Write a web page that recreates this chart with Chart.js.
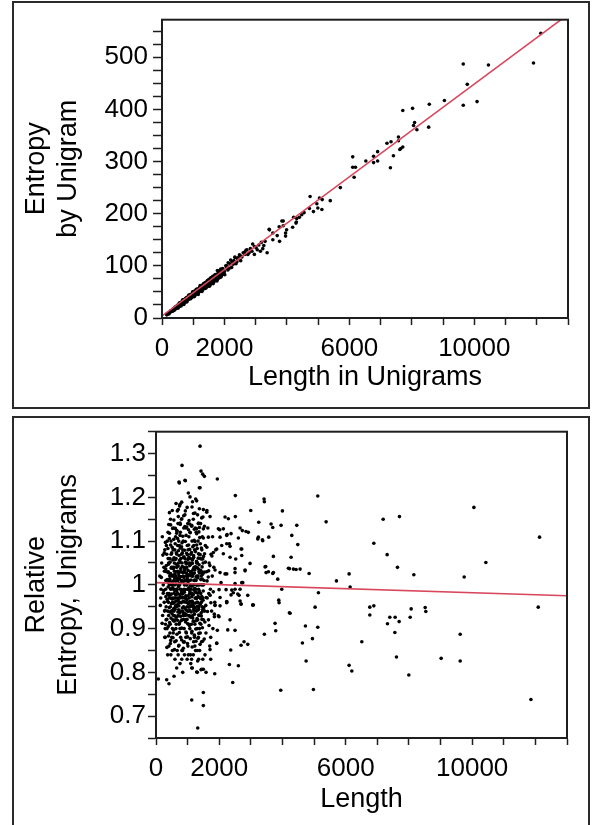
<!DOCTYPE html>
<html>
<head>
<meta charset="utf-8">
<script src="https://cdn.jsdelivr.net/npm/chart.js@4.4.1/dist/chart.umd.min.js"></script>
<style>
html, body { margin: 0; padding: 0; background: #fff; overflow: hidden; }
.box { position: absolute; left: 12px; width: 574px; border: 2px solid #2a2a2a; background: #fff; }
#box1 { top: 1px; height: 404px; }
#box2 { top: 416px; height: 420px; }
canvas { display: block; }
</style>
</head>
<body>
<div class="box" id="box1"><canvas id="entropyChart" width="574" height="404"></canvas></div>
<div class="box" id="box2"><canvas id="relativeChart" width="574" height="410"></canvas></div>
<script>
// labelled ticks on the length axis (others are unlabelled minor marks)
var lengthLabels = [0, 2000, 6000, 10000]

// fitted lines [length, value]
var entropyFit = [[0, 4], [13000, 582]]
var relativeFit = [[0, 1.005], [13000, 0.975]]

// top panel: [length in unigrams, entropy by unigram]
var entropyDense = [
  [150,6],[200,9],[250,11],[300,13],[320,15],[350,15],[380,17],[400,18],[420,19],[450,20],[470,22],[500,22],
  [520,24],[550,24],[570,26],[600,27],[620,28],[650,29],[670,31],[700,31],[720,33],[750,33],[770,35],[800,36],
  [820,37],[850,38],[870,40],[900,40],[920,42],[950,42],[970,44],[1000,45],[1020,47],[1050,46],[1070,48],[1100,49],
  [1120,51],[1150,51],[1170,53],[1200,53],[1220,55],[1250,56],[1270,58],[1300,58],[1320,60],[1350,60],[1370,62],
  [1400,62],[1420,65],[1450,64],[1470,67],[1500,67],[1520,69],[1550,69],[1570,72],[1600,71],[1620,74],[1650,73],
  [1680,76],[1700,75],[1730,79],[1760,78],[1800,81],[1840,83],[1880,85],[1920,86],[1960,88],[2000,89],
  [180,7],[240,10],[290,12],[340,16],[390,16],[440,21],[490,20],[540,26],[590,25],[640,30],[690,29],[740,35],
  [790,34],[840,40],[890,38],[940,44],[990,43],[1040,49],[1090,47],[1140,53],[1190,51],[1240,58],[1290,56],
  [1340,63],[1390,60],[1440,67],[1490,64],[1540,72],[1590,68],[1640,76],[1690,72],[1740,81],[1790,77],[1850,86],
  [1900,82],[1950,91],[360,14],[460,19],[560,23],[660,27],[760,31],[860,36],[960,40],[1060,44],[1160,48],
  [1260,52],[1360,57],[1460,61],[1560,65],[1660,70],[1760,74],[1860,79],[410,20],[510,25],[610,30],[710,35],
  [810,39],[910,44],[1010,49],[1110,54],[1210,59],[1310,63],[1410,68],[1510,73],[1610,77],[1710,82],[1810,84],
  [160,8],[230,8],[275,14],[335,13],[365,18],[395,15],[425,21],[455,18],[485,24],[515,21],[545,27],[575,23],
  [605,30],[635,26],[665,33],[695,28],[725,36],[755,31],[785,39],[815,34],[845,42],[875,37],[905,45],[935,39],
  [965,47],[995,41],[1025,51],[1055,44],[1085,53],[1115,47],[1145,56],[1175,49],[1205,58],[1235,52],[1265,62],
  [1295,54],[1325,65],[1355,56],[1385,68],[1415,59],[1445,71],[1475,62],[1505,74],[1535,64],[1565,77],[1595,66],
  [1625,80],[1655,69],[1685,82],[1715,72],[1745,84],[1775,74],[1805,88],[1835,77],[1865,90],[1895,80],[1925,93],
  [1975,84],[2060,96],[2110,92],[2180,104],[2230,97],[2300,110],[2370,104],[2450,116],[2520,110],[2600,125],
  [2750,122],[2830,133],[2880,128],[3100,140],[3150,128],[3300,147],
  [215,10],[345,15],[475,21],[605,27],[735,33],[865,38],[995,44],[1125,50],[1255,56],[1385,61],[1515,67],[1645,73],
  [1775,79],[1905,85],[280,13],[430,19],[580,26],[730,32],[880,39],[1030,46],[1180,52],[1330,59],[1480,66],
  [1630,72],[1780,79],[1930,86],
  [520,19],[560,29],[610,23],[660,35],[700,26],[760,38],[800,31],[860,44],[920,37],[980,50],[1040,41],[1100,55],
  [1160,45],[1220,62],[1280,51],[1340,66],[1400,57],[1460,72],[1520,61],[1580,77],[1640,66],[1700,83],[1760,71],
  [1820,90],[1880,78],[1940,95],[2010,83],[2080,100],[2150,95],[2200,111],[2280,103],[2340,116],[2400,108],
  [2480,121],[2560,117],[2640,126],[2720,131],[2790,125],[2960,137],[3050,131],[3180,145],[3260,139]
]
var entropySparse = [
  [12130,546],[11895,489],[10452,485],[9646,487],[9775,448],[9646,408],[10088,415],[9043,417],[8559,410],
  [8539,366],[8162,361],[8088,375],[8055,369],[8023,402],[7710,398],[7571,347],[7571,340],[7333,338],[7204,335],
  [7710,328],[7646,325],[7614,323],[7410,311],[7313,288],[6904,319],[6904,301],[6775,310],[6775,298],[6527,301],
  [6107,309],[6107,289],[6194,289],[6152,270],[5710,250],[5043,230],[5130,227],[4742,233],[5388,225],
  [5120,208],[4990,211],[4849,204],[4958,219],[4720,210],[4549,202],[4474,198],[4398,193],[4313,191],[4216,193],
  [4290,182],[4184,174],[3882,186],[3839,186],[3752,175],[3882,177],[3430,170],[3990,169],[4302,184],[3957,163],
  [3957,157],[3688,158],[3549,163],[3764,147],[3549,150],[3442,169],[3366,125],[3226,133],[2903,142],[3011,135],
  [2957,122],[2688,130],[2656,122],[2527,119],[2420,113],[2334,117],[2258,108],[2119,106],[2042,100],[1990,84],
  [1881,94],[1774,91]
]

// bottom panel: [length, relative entropy]
var relativeDense = [
  [120,1.02],[150,0.97],[180,1.05],[210,0.93],[230,1.00],[260,0.96],[280,1.08],[300,0.91],[160,0.99],[250,1.04],
  [290,0.88],[200,1.11],[270,0.94],[310,1.01],[320,0.95],[340,1.07],[350,0.90],[360,0.98],[380,1.12],[390,1.03],
  [400,0.93],[410,0.86],[420,1.00],[430,0.97],[440,1.06],[450,0.91],[460,1.15],[470,0.99],[480,0.94],[490,1.04],
  [500,0.88],[330,1.09],[370,0.84],[395,0.96],[445,1.01],[475,1.10],[510,1.02],[520,0.96],[530,0.92],[540,1.08],
  [550,0.99],[560,1.13],[570,0.94],[580,1.05],[590,0.87],[600,1.00],[610,0.97],[620,1.11],[630,0.90],[640,1.03],
  [650,0.95],[660,1.07],[670,0.85],[680,0.98],[690,1.01],[700,0.93],[515,1.17],[545,0.89],[575,1.04],[605,0.92],
  [635,1.06],[665,0.99],[695,1.14],[525,1.00],[585,0.96],[625,1.02],[710,1.05],[720,0.97],[730,0.91],[740,1.09],
  [750,1.00],[760,0.94],[770,1.12],[780,0.88],[790,1.03],[800,0.96],[810,1.07],[820,0.92],[830,1.01],[840,0.85],
  [850,0.98],[860,1.10],[870,0.95],[880,1.04],[890,0.90],[900,1.00],[715,0.86],[745,1.18],[775,0.99],[805,1.15],
  [835,0.94],[865,1.02],[895,0.87],[725,1.02],[755,0.97],[785,1.06],[815,0.83],[845,1.08],[875,0.93],[910,0.97],
  [920,1.06],[930,0.92],[940,1.01],[950,1.13],[960,0.89],[970,1.04],[980,0.95],[990,1.09],[1000,0.99],[1010,0.86],
  [1020,1.02],[1030,0.94],[1040,1.11],[1050,0.97],[1060,1.05],[1070,0.90],[1080,1.00],[1090,0.84],[1100,1.07],
  [915,1.16],[945,0.88],[975,1.00],[1005,1.14],[1035,0.91],[1065,0.98],[1095,1.03],[925,1.01],[955,0.96],[985,0.83],
  [1015,1.08],[1045,0.93],[1075,1.12],[1110,0.96],[1120,1.03],[1130,0.89],[1140,1.10],[1150,0.98],[1160,0.93],
  [1170,1.06],[1180,1.15],[1190,0.87],[1200,1.01],[1210,0.95],[1220,1.08],[1230,0.91],[1240,1.04],[1250,0.85],
  [1260,0.99],[1270,1.12],[1280,0.94],[1290,1.02],[1300,0.90],[1125,0.83],[1155,1.19],[1185,1.00],[1215,0.88],
  [1245,1.13],[1275,0.97],[1135,1.05],[1165,0.96],[1195,1.09],[1225,1.01],[1310,1.05],[1320,0.96],[1330,1.10],
  [1340,0.88],[1350,1.00],[1360,0.93],[1370,1.07],[1380,0.85],[1390,1.03],[1400,0.97],[1410,1.14],[1420,0.91],
  [1430,1.02],[1440,0.87],[1450,1.08],[1460,0.95],[1470,1.00],[1480,0.83],[1490,1.05],[1500,0.92],[1315,1.16],
  [1345,0.99],[1375,0.90],[1405,1.06],[1435,0.96],[1465,1.11],[1520,1.01],[1540,0.94],[1560,1.09],[1580,0.89],
  [1600,1.03],[1620,0.97],[1640,1.13],[1660,0.92],[1680,1.05],[1700,0.86],[1720,0.99],[1740,1.07],[1760,0.94],
  [1780,1.02],[1800,0.90],[1830,1.04],[1860,0.96],[1890,1.08],[1550,0.84],[1610,1.17],[1670,0.98],[1730,0.88],
  [1790,1.11],[305,0.99],[335,1.03],[365,0.94],[385,1.06],[415,0.98],[435,1.02],[455,0.95],[485,1.00],[505,0.97],
  [535,1.04],[555,0.93],[565,1.01],[595,1.08],[615,0.95],[645,0.99],[655,1.04],[675,0.97],[685,1.09],[705,1.00],
  [735,0.96],[765,1.03],[795,0.98],[825,1.05],[855,0.93],[885,0.99],[905,1.03],[935,0.97],[965,1.02],[995,0.94],
  [1025,0.99],[1055,1.01],[1085,0.95],[1105,0.99],[1145,1.02],[1175,0.95],[1205,1.04],[1235,0.97],[1265,1.01],
  [1295,0.96],[1325,1.02],[1355,0.95],[1385,1.00],[1415,0.98],[1445,1.03],[1475,0.94],[1505,1.00],[320,0.92],
  [360,1.10],[400,1.05],[440,0.89],[480,1.07],[520,0.90],[560,0.97],[600,1.06],[640,0.91],[680,1.03],[720,1.10],
  [760,0.90],[800,1.01],[840,0.97],[880,1.13],[920,0.93],[960,1.00],[1000,1.05],[1040,0.96],[1080,1.06],[1120,0.91],
  [1160,1.02],[1200,0.94],[1240,0.99],[1280,1.05],[1320,0.92],[1360,1.03],[1400,0.89],[1440,1.00],[1480,0.97],
  [280,0.88],[290,0.90],[470,0.84],[520,0.85],[600,0.83],[700,0.84],[760,0.82],[820,0.85],[900,0.84],[1020,0.84],
  [1100,0.82],[1180,0.84],[1230,0.86],[1300,0.85],[1350,0.83]
]
var relativeCore = [
  [137,0.953],[168,1.017],[193,0.912],[217,1.068],[243,0.987],[266,1.031],[287,0.942],[298,1.097],[313,0.973],
  [327,1.044],[343,0.921],[356,1.012],[368,0.962],[377,1.083],[389,0.905],[403,1.027],[412,0.976],[426,1.118],
  [437,0.938],[449,1.052],[458,0.991],[466,0.873],[479,1.021],[487,0.957],[498,1.073],[507,0.934],[518,1.006],
  [527,1.129],[538,0.968],[546,1.037],[557,0.897],[568,1.062],[577,0.981],[588,1.016],[597,0.929],[607,1.094],
  [618,0.952],[627,1.009],[638,0.872],[647,1.047],[658,0.986],[668,1.123],[677,0.919],[688,1.031],[697,0.964],
  [708,1.078],[717,0.943],[728,1.003],[738,0.891],[747,1.056],[758,0.977],[768,1.138],[777,0.928],[787,1.019],
  [798,0.959],[808,1.087],[817,0.901],[828,1.042],[838,0.972],[847,1.111],[858,0.937],[868,1.008],[877,0.869],
  [887,1.064],[898,0.983],[908,1.029],[917,0.946],[928,1.099],[937,0.915],[948,1.038],[958,0.968],[967,1.072],
  [978,0.931],[988,1.014],[997,0.881],[1008,1.058],[1018,0.975],[1027,1.126],[1038,0.949],[1048,1.023],[1057,0.907],
  [1068,1.081],[1078,0.962],[1087,1.046],[1098,0.926],[1108,1.011],[1117,0.979],[1128,1.134],[1137,0.894],
  [1147,1.049],[1158,0.954],[1168,1.024],[1177,0.917],[1188,1.067],[1197,0.988],[1208,1.102],[1218,0.933],
  [1227,1.034],[1238,0.958],[1247,1.076],[1258,0.899],[1268,1.018],[1277,0.969],[1288,1.091],[1298,0.923],
  [1307,1.039],[1318,0.981],[1328,0.878],[1337,1.061],[1348,0.944],[1357,1.121],[1368,0.986],[1377,1.027],
  [1388,0.912],[1398,1.069],[1407,0.957],[1418,1.012],[1428,0.936],[1437,1.084],[1448,0.973],[1458,1.041],
  [1467,0.902],[1478,1.059],[1488,0.965],[1497,1.107],[1512,0.948],[1527,1.029],[1546,0.915],[1563,1.052],
  [1587,0.971],[1608,1.086],[1628,0.939],[1653,1.018],[1677,0.907],[1704,1.044],[1736,0.959],[1768,1.066],
  [1812,0.984],[1847,0.927],
  [228,0.981],[262,1.073],[308,1.036],[352,0.967],[396,1.005],[431,0.914],[462,1.026],[493,0.979],[531,1.057],
  [561,0.946],[592,1.024],[623,0.977],[653,1.118],[683,0.955],[712,1.026],[742,0.913],[772,1.051],[803,0.986],
  [833,1.073],[863,0.962],[893,1.034],[922,0.989],[953,1.048],[983,0.921],[1012,1.007],[1043,1.063],[1072,0.941],
  [1103,1.029],[1133,0.973],[1163,1.087],[1193,0.944],[1222,1.011],[1253,0.983],[1283,1.128],[1313,0.951],
  [1343,1.036],[1373,0.971],[1403,1.094],[1433,0.929],[1463,1.013],[1493,0.986],[1535,1.071],[1575,0.953],
  [1615,1.009],[1665,1.032],[1712,0.976],
  [345,0.857],[455,0.866],[585,0.852],[725,0.862],[865,0.855],[995,0.866],[1145,0.858],[1265,0.871],[1395,0.864],
  [1525,0.876],[425,1.165],[565,1.148],[705,1.172],[875,1.158],[1045,1.147],[1185,1.163],[1345,1.141],[1485,1.155],
  [635,1.186],[985,1.177],[1255,1.196],
  [382,0.995],[397,1.047],[418,0.948],[433,1.013],[447,0.977],[463,1.091],[472,0.924],[483,1.038],[497,0.968],
  [503,1.002],[512,1.086],[523,0.941],[533,0.993],[543,1.022],[552,0.958],[563,1.104],[573,0.917],[582,1.031],
  [593,0.987],[602,0.944],[612,1.058],[622,1.002],[632,0.963],[642,1.073],[652,0.926],[663,1.015],[672,0.979],
  [682,1.106],[692,0.938],[702,1.043],[713,0.996],[722,0.952],[732,1.067],[743,1.014],[752,0.936],[763,1.084],
  [773,0.971],[782,1.037],[793,0.918],[802,1.006],[812,0.982],[823,1.096],[832,0.947],[843,1.028],[852,0.988],
  [862,1.062],[873,0.921],[882,1.017],[892,0.961],[903,1.079],[912,1.001],[923,0.934],[932,1.052],[943,0.975],
  [952,1.113],[962,0.942],[973,1.026],[982,0.966],[993,1.069],[1003,0.911],[1013,1.033],[1023,0.957],[1033,1.091],
  [1042,0.993],[1053,0.929],[1063,1.044],[1073,0.985],[1083,1.119],[1093,0.952],[1102,1.021],[1113,0.938],
  [1123,1.074],[1132,0.997],[1143,0.963],[1153,1.057],[1163,0.924],[1172,1.035],[1183,0.978],[1192,1.063],
  [1203,0.916],[1213,1.027],[1223,0.992],[1232,1.099],[1243,0.947],[1252,1.041],[1263,0.969],[1272,0.918],
  [1283,1.054],[1292,0.999],[1303,1.083],[1312,0.942],[1323,1.016],[1333,0.974],[1342,1.071],[1353,0.931],
  [1363,1.046],[1372,0.983],[1383,1.108],[1392,0.955],[1413,1.033],[1423,0.968],[1442,1.059],[1453,0.921],
  [1473,1.024],[1483,0.944],[1503,1.065],
  [392,0.883],[538,0.879],[662,0.887],[812,0.874],[947,0.892],[1083,0.877],[1213,0.885],[1353,0.889],[1473,0.871],
  [462,1.137],[612,1.129],[762,1.141],[912,1.133],[1062,1.139],[1212,1.127],[1372,1.131],[1532,1.134]
]
var relativeSparse = [
  [5117,1.203],[5381,1.144],[7185,1.150],[7701,1.156],[10055,1.177],[12132,1.109],[6890,1.095],[7311,1.069],
  [10434,1.051],[7638,1.040],[4558,1.036],[4843,1.026],[6108,1.025],[8156,1.023],[9748,1.018],[5707,1.009],
  [6140,0.995],[5137,0.982],[5032,0.949],[6763,0.949],[6890,0.952],[6763,0.931],[8071,0.945],[8514,0.948],
  [8535,0.939],[7396,0.926],[7564,0.926],[7691,0.916],[8039,0.926],[7322,0.911],[12090,0.949],[4726,0.906],
  [5117,0.903],[4631,0.867],[4948,0.877],[4748,0.826],[4979,0.761],[6510,0.870],[6108,0.816],[6194,0.803],
  [7555,0.891],[7606,0.835],[7997,0.794],[9622,0.887],[9020,0.832],[9622,0.826],[11859,0.738],
  [73,0.785],[338,0.783],[411,0.774],[570,0.791],[845,0.800],[1130,0.737],[1149,0.810],[1320,0.673],[1307,0.800],
  [1424,0.806],[1497,0.754],[1497,0.724],[1583,0.800],[1731,0.830],[1858,0.797],[1921,0.866],[1709,0.852],
  [1940,0.896],[1994,0.927],[1845,0.933],[2026,0.952],[1867,0.954],[2269,0.897],[2342,0.920],[2364,0.851],
  [2321,0.818],[2427,0.777],[2500,0.896],[2605,0.815],[2690,0.862],[2785,0.870],[2902,0.864],[2690,0.956],
  [3060,0.954],[2237,0.961],[3428,0.887],[3766,0.912],[3787,0.895],[3946,0.759],[3893,0.959],[4241,0.935],
  [1393,1.317],[823,1.273],[728,1.235],[918,1.239],[1424,1.260],[1478,1.253],[1530,1.248],[1393,1.222],[1940,1.242],
  [2510,1.204],[3418,1.196],[3428,1.190],[2997,1.170],[3998,1.169],[3250,1.143],[3640,1.139],[3956,1.136],
  [4453,1.136],[3693,1.131],[2659,1.130],[2731,1.124],[2921,1.120],[2848,1.122],[2510,1.156],[2288,1.151],
  [2247,1.115],[2130,1.128],[2016,1.126],[2320,1.094],[2342,1.088],[2605,1.107],[3238,1.109],[3365,1.103],
  [3566,1.109],[4295,1.113],[4484,1.092],[2690,1.082],[3713,1.065],[4273,1.063],[3471,1.042],[3555,1.030],
  [3693,1.026],[4219,1.037],[4346,1.036],[4431,1.035],[2817,1.032],[2500,1.028],[2184,1.025],[3978,0.990],
  [3883,0.965],[4219,0.936],[3080,0.954],[2659,0.963],[2447,0.982],[2396,0.988],[2586,0.979],[2237,0.959],
  [2026,0.971],[738,1.233],[928,1.238],[1371,1.222],[1023,1.210],[1076,1.201],[1287,1.192],[813,1.189],[760,1.184],
  [1139,1.178],[1371,1.174],[1498,1.172],[1604,1.166],[928,1.169],[675,1.169],[1234,1.164],[1709,1.156],
  [2184,1.155],[706,1.156],[813,1.151],[1446,1.153],[1339,1.140],[1130,1.136],[402,1.138],[972,1.132],[1498,1.128],
  [655,1.124],[1973,1.128],[2026,1.109],[2237,1.113],[2374,1.117],[421,1.106],[760,1.113],[1287,1.117],[1656,1.109],
  [3219,1.105],[3376,1.101],[2237,1.094],[2079,1.090],[1921,1.082],[1814,1.074],[2130,1.071],[2342,1.063],
  [2712,1.082],[2712,1.067],[2522,1.059],[2975,1.049],[3450,1.041],[3482,1.028],[3713,1.028],[3851,1.013],
  [4188,1.038],[2500,1.037],[2817,1.034],[2237,1.025],[2026,1.028],[1867,1.034],[2712,1.005],[2500,1.003],
  [655,0.810],[1130,0.810],[1287,0.801],[1319,0.826],[1446,0.807],[1498,0.807],[1921,0.867],[1973,0.929],
  [1867,0.953],[2237,0.962],[2374,0.977],[2500,0.990],[2659,0.990],[2216,0.989],[1994,0.989],[2057,1.005],
  [2744,1.005],[2627,0.976],[2690,0.956],[2902,0.976],[3060,0.954]
]

var fontFamily = "'Liberation Sans', Arial, Helvetica, sans-serif"
var ink = '#1e1e1e'

function toPoints(pairs) {
  return pairs.map(p => ({x: p[0], y: p[1]}))
}

// box around the plotting area, like the original
var framePlugin = {
  id: 'frame',
  afterDatasetsDraw(chart) {
    var a = chart.chartArea
    var ctx = chart.ctx
    ctx.save()
    ctx.strokeStyle = ink
    ctx.lineWidth = 2
    ctx.strokeRect(a.left, a.top, a.right - a.left, a.bottom - a.top)
    ctx.restore()
  }
}

function makeChart(canvasId, points, fit, yAxis, yTitle, xTitle, box) {
  return new Chart(document.getElementById(canvasId), {
    type: 'scatter',
    data: {
      datasets: [
        {
          type: 'line',
          data: toPoints(fit),
          borderColor: '#d8475c',
          borderWidth: 1.6,
          pointRadius: 0,
          fill: false
        },
        {
          data: toPoints(points),
          backgroundColor: '#000',
          borderWidth: 0,
          pointRadius: 1.8
        }
      ]
    },
    options: {
      responsive: false,
      animation: false,
      events: [],
      layout: { padding: { left: 0, top: box.top, right: box.right, bottom: 0 } },
      plugins: { legend: { display: false }, tooltip: { enabled: false } },
      scales: {
        x: {
          type: 'linear',
          min: 0,
          max: 13000,
          afterFit: function (scale) { scale.height = box.xHeight },
          border: { display: true, color: ink, width: 2 },
          grid: { drawOnChartArea: false, tickLength: 7, tickColor: ink, tickWidth: 1.5 },
          ticks: {
            stepSize: 1000,
            autoSkip: false,
            maxRotation: 0,
            padding: 11,
            color: '#000',
            font: { family: fontFamily, size: 26, lineHeight: 1 },
            callback: v => lengthLabels.indexOf(v) >= 0 ? String(v) : ''
          },
          title: {
            display: true,
            text: xTitle,
            color: '#000',
            padding: { top: 0, bottom: box.xTitlePad },
            font: { family: fontFamily, size: 27, lineHeight: 1.2 }
          }
        },
        y: {
          type: 'linear',
          min: yAxis.min,
          max: yAxis.max,
          afterFit: function (scale) { scale.width = box.yWidth },
          border: { display: true, color: ink, width: 2 },
          grid: { drawOnChartArea: false, tickLength: yAxis.tickLength, tickColor: ink, tickWidth: 1.5 },
          ticks: {
            stepSize: yAxis.step,
            includeBounds: false,
            autoSkip: false,
            padding: yAxis.pad,
            color: '#000',
            font: { family: fontFamily, size: 26, lineHeight: 0.9 },
            callback: yAxis.label
          },
          title: {
            display: true,
            text: yTitle,
            color: '#000',
            padding: { top: 6, bottom: 0 },
            font: { family: fontFamily, size: 27, lineHeight: 1.2 }
          }
        }
      }
    },
    plugins: [framePlugin]
  })
}

makeChart('entropyChart', entropyDense.concat(entropySparse), entropyFit,
  { min: 0, max: 572, step: 25, tickLength: 9, pad: 5, label: v => v % 100 === 0 ? String(v) : '' },
  ['Entropy', 'by Unigram'], 'Length in Unigrams',
  { top: 12, right: 20, yWidth: 148, xHeight: 89, xTitlePad: 13 })

makeChart('relativeChart', relativeDense.concat(relativeCore, relativeSparse), relativeFit,
  { min: 0.65, max: 1.35, step: 0.05, tickLength: 8, pad: 2,
    label: v => Math.abs(v * 10 - Math.round(v * 10)) < 1e-6 ? String(+v.toFixed(1)) : '' },
  ['Relative', 'Entropy, Unigrams'], 'Length',
  { top: 13, right: 21, yWidth: 142, xHeight: 90, xTitlePad: 12 })
</script>
</body>
</html>
